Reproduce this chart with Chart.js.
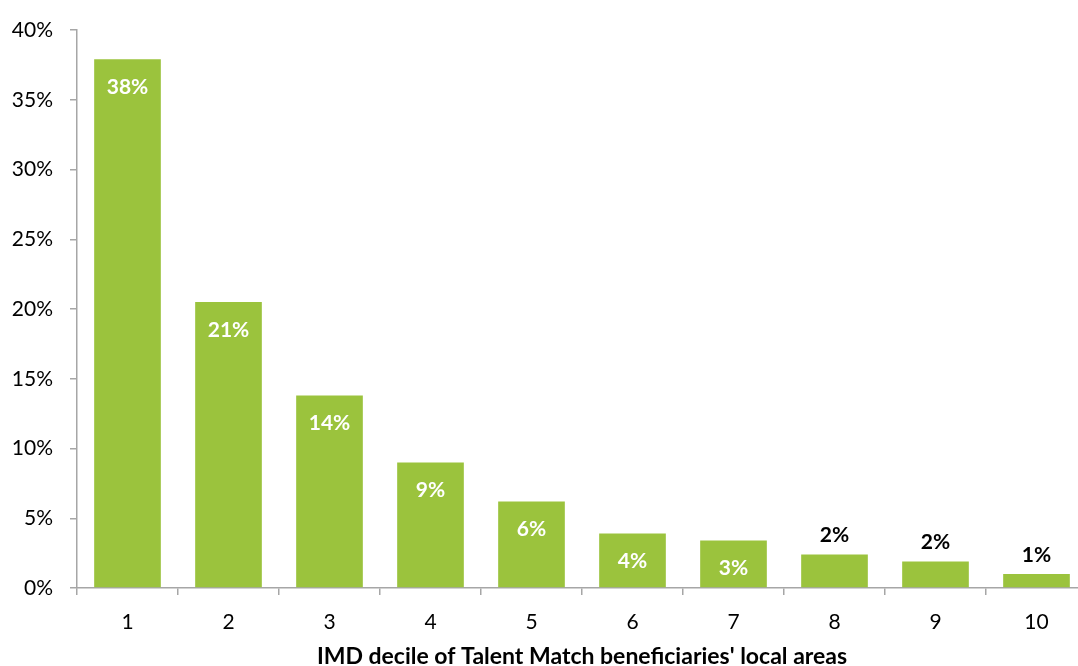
<!DOCTYPE html>
<html>
<head>
<meta charset="utf-8">
<script src="https://cdn.jsdelivr.net/npm/chart.js@4/dist/chart.umd.min.js"></script>
<style>
  html, body { margin: 0; padding: 0; background: #fff; overflow: hidden; }
  #wrap { position: absolute; left: 0; top: 0; width: 1100px; height: 666px; }
</style>
</head>
<body>
<div id="wrap"><canvas id="c" width="1100" height="666"></canvas></div>
<script>
const categories = ['1', '2', '3', '4', '5', '6', '7', '8', '9', '10'];
const values = [37.9, 20.5, 13.8, 9.0, 6.2, 3.9, 3.4, 2.4, 1.9, 1.0];
const yTicks = [0, 5, 10, 15, 20, 25, 30, 35, 40];
const xTitle = "IMD decile of Talent Match beneficiaries' local areas";

const FONT = 'Lato, "Open Sans", sans-serif';
const GREEN = '#9BC33D';
const AXIS = '#A6A6A6';

const labelPlugin = {
  id: 'barLabels',
  afterDatasetsDraw(chart) {
    const ctx = chart.ctx;
    const meta = chart.getDatasetMeta(0);
    ctx.save();
    ctx.font = 'bold 21px ' + FONT;
    ctx.textAlign = 'center';
    ctx.textBaseline = 'middle';
    meta.data.forEach((bar, i) => {
      const v = values[i];
      const txt = Math.round(v) + '%';
      const height = bar.base - bar.y;
      if (height > 40) {
        ctx.fillStyle = '#FFFFFF';
        ctx.fillText(txt, bar.x, bar.y + 28);
      } else {
        ctx.fillStyle = '#000000';
        ctx.fillText(txt, bar.x, bar.y - 19);
      }
    });
    ctx.restore();
  }
};

new Chart(document.getElementById('c'), {
  type: 'bar',
  data: {
    labels: categories,
    datasets: [{
      data: values,
      backgroundColor: GREEN,
      borderWidth: 0,
      categoryPercentage: 1.0,
      barPercentage: 0.66
    }]
  },
  options: {
    responsive: false,
    animation: false,
    devicePixelRatio: 1,
    layout: { padding: { top: 30, right: 13, left: 0, bottom: 0 } },
    plugins: { legend: { display: false }, tooltip: { enabled: false } },
    scales: {
      x: {
        grid: { drawOnChartArea: false, color: AXIS, tickLength: 7, lineWidth: 1.5 },
        border: { color: AXIS, width: 1.5 },
        ticks: { color: '#000', font: { family: FONT, size: 21 }, padding: 15 },
        title: {
          display: true, text: xTitle, color: '#000',
          font: { family: FONT, size: 23, weight: 'bold', lineHeight: 0.8 },
          padding: { top: 0, bottom: 0 }
        },
        afterFit(scale) { scale.height = 78; }
      },
      y: {
        min: 0, max: 40,
        afterBuildTicks(scale) { scale.ticks = yTicks.map(v => ({ value: v })); },
        grid: { drawOnChartArea: false, color: AXIS, tickLength: 7, lineWidth: 1.5 },
        border: { color: AXIS, width: 1.5 },
        ticks: {
          color: '#000', font: { family: FONT, size: 21 }, padding: 17,
          callback: v => v + '%'
        },
        afterFit(scale) { scale.width = 77; }
      }
    }
  },
  plugins: [labelPlugin]
});
</script>
</body>
</html>
